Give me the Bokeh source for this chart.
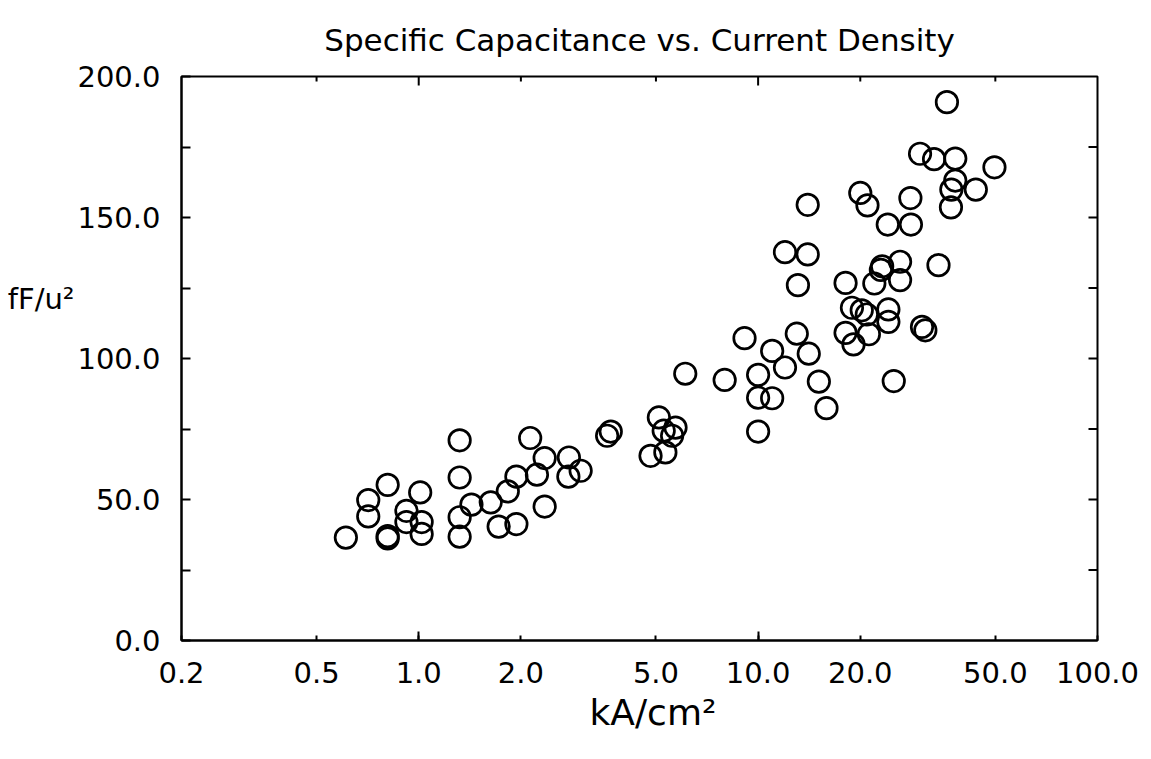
import math
from bokeh.plotting import figure
from bokeh.models import FixedTicker, CustomJSTickFormatter, ColumnDataSource, LinearAxis, LogAxis
from bokeh.embed import file_html
from bokeh.resources import INLINE

# ---- data ----
current_density = [
    0.61, 0.71, 0.71, 0.81, 0.81, 0.81, 0.92, 0.92, 1.01, 1.02, 1.02,
    1.32, 1.32, 1.32, 1.32, 1.43, 1.63, 1.72, 1.83, 1.94, 1.94,
    2.13, 2.23, 2.35, 2.35, 2.77, 2.76, 3.00, 3.59, 3.68,
    5.10, 4.82, 5.33, 5.27, 5.71, 5.58, 6.10, 7.97, 9.12,
    10.0, 10.0, 10.0, 11.0, 11.0, 12.0, 13.0, 14.1, 15.1, 15.9,
    36.0, 30.0, 33.0, 38.1, 49.7, 38.1, 37.1, 43.8, 37.0,
    14.0, 20.0, 21.0, 28.1, 24.1, 28.2, 12.0, 14.0, 13.1,
    34.0, 23.2, 26.2, 23.0, 26.2, 22.0, 18.1, 18.9, 20.2, 20.9,
    24.2, 24.2, 18.1, 19.1, 21.2, 30.4, 31.1, 25.1,
]
capacitance = [
    36.5, 49.8, 44.0, 55.2, 37.0, 36.2, 46.0, 42.0, 52.5, 42.0, 37.8,
    71.0, 57.8, 43.7, 36.8, 48.2, 49.0, 40.4, 52.9, 58.1, 41.3,
    71.8, 58.8, 64.7, 47.5, 64.9, 58.1, 60.2, 72.6, 74.1,
    79.1, 65.5, 66.7, 74.4, 75.5, 72.6, 94.6, 92.4, 107.2,
    94.2, 86.1, 74.1, 85.9, 102.7, 96.8, 108.8, 101.7, 91.8, 82.4,
    190.9, 172.6, 170.7, 170.9, 167.8, 163.1, 159.9, 159.9, 153.6,
    154.5, 158.7, 154.3, 156.9, 147.5, 147.5, 137.7, 136.9, 126.0,
    133.1, 132.7, 134.3, 131.4, 127.8, 126.6, 126.8, 118.0, 117.1, 115.6,
    117.4, 113.0, 109.1, 105.0, 108.6, 111.2, 110.0, 92.0,
]
x_ticks = [0.2, 0.5, 1, 2, 5, 10, 20, 50, 100]
x_long_ticks = [1, 10]
y_ticks = [0, 50, 100, 150, 200]
y_minor_ticks = [25, 75, 125, 175]

title_text = "Specific Capacitance vs. Current Density"
x_label_text = "kA/cm²"
y_label_text = "fF/u²"
x_label_at = 4.9     # x position (data) where the x-axis title is centred
y_label_at = 121.0   # y position (data) where the y-axis title sits

FONT = "DejaVu Sans"
X0, X1, Y0, Y1 = 0.2, 100, 0, 200
PX_PER_DECADE = 916 / math.log10(X1 / X0)
PX_PER_UNIT = 565 / (Y1 - Y0)

p = figure(width=1151, height=759, x_axis_type="log", x_range=(X0, X1), y_range=(Y0, Y1),
           output_backend="svg", toolbar_location=None, title=title_text,
           min_border_left=181, min_border_right=54, min_border_top=75, min_border_bottom=119)
p.background_fill_color = "white"
p.border_fill_color = "white"
p.grid.visible = False
p.outline_line_color = "black"
p.outline_line_width = 2

p.title.align = "center"
p.title.text_font = FONT
p.title.text_font_size = "31px"
p.title.text_font_style = "normal"
p.title.text_color = "black"
p.title.standoff = 38

fmt = CustomJSTickFormatter(code="return tick.toFixed(1);")

ax = p.xaxis[0]
ax.ticker = FixedTicker(ticks=x_ticks, minor_ticks=x_long_ticks)
ax.formatter = fmt
ax.axis_line_color = "black"
ax.axis_line_width = 2
ax.major_tick_in = 5
ax.major_tick_out = 0
ax.minor_tick_in = 9
ax.minor_tick_out = 0
ax.major_tick_line_width = 2
ax.minor_tick_line_width = 2
ax.major_label_text_font = FONT
ax.major_label_text_color = "black"
ax.major_label_text_font_size = "29px"
ax.major_label_standoff = 21

ay = p.yaxis[0]
ay.ticker = FixedTicker(ticks=y_ticks, minor_ticks=y_minor_ticks)
ay.formatter = fmt
ay.axis_line_color = "black"
ay.axis_line_width = 2
ay.major_tick_in = 9
ay.major_tick_out = 0
ay.minor_tick_in = 9
ay.minor_tick_out = 0
ay.major_tick_line_width = 2
ay.minor_tick_line_width = 2
ay.major_label_text_font = FONT
ay.major_label_text_color = "black"
ay.major_label_text_font_size = "29px"
ay.major_label_standoff = 21

# axis titles: drawn as single-label axes so they can be placed like the reference
xt = LogAxis(ticker=FixedTicker(ticks=[x_label_at], minor_ticks=[]),
             formatter=CustomJSTickFormatter(args=dict(lbl=x_label_text), code="return lbl;"))
yt = LinearAxis(ticker=FixedTicker(ticks=[y_label_at], minor_ticks=[]),
                formatter=CustomJSTickFormatter(args=dict(lbl=y_label_text), code="return lbl;"))
for a in (xt, yt):
    a.axis_line_color = None
    a.major_tick_line_color = None
    a.minor_tick_line_color = None
    a.major_tick_in = 0
    a.major_tick_out = 0
    a.major_label_text_font = FONT
    a.major_label_text_color = "black"
xt.major_label_text_font_size = "36px"
xt.major_label_standoff = 6
yt.major_label_text_font_size = "29px"
yt.major_label_standoff = 0
p.add_layout(xt, "below")
p.add_layout(yt, "left")

# ticks on the top and right edges of the frame (same tick positions)
top_short = [t for t in x_ticks if X0 < t < X1 and t not in x_long_ticks]
p.segment(x0=top_short, y0=[Y1] * len(top_short), x1=top_short,
          y1=[Y1 - 5 / PX_PER_UNIT] * len(top_short), line_color="black", line_width=2)
p.segment(x0=x_long_ticks, y0=[Y1] * len(x_long_ticks), x1=x_long_ticks,
          y1=[Y1 - 9 / PX_PER_UNIT] * len(x_long_ticks), line_color="black", line_width=2)
right_pos = [t for t in sorted(y_ticks + y_minor_ticks) if Y0 < t < Y1]
right_inner = X1 / 10 ** (9 / PX_PER_DECADE)
p.segment(x0=[X1] * len(right_pos), y0=right_pos, x1=[right_inner] * len(right_pos),
          y1=right_pos, line_color="black", line_width=2)

src = ColumnDataSource(dict(x=current_density, y=capacitance))
p.scatter("x", "y", source=src, marker="circle", size=21.5, fill_color=None,
          line_color="black", line_width=2.7)

open("out.html", "w").write(file_html(p, INLINE))
